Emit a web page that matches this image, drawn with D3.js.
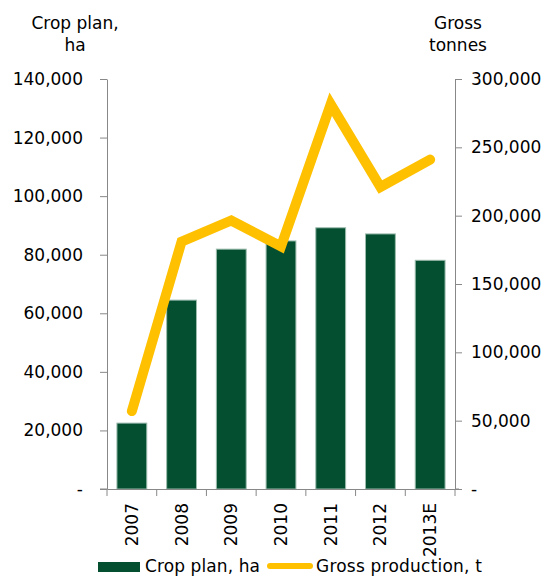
<!DOCTYPE html>
<html><head><meta charset="utf-8">
<script src="https://cdn.jsdelivr.net/npm/d3@7"></script>
<style>body{margin:0;background:#fff}svg text{font-family:"DejaVu Sans",Verdana,sans-serif;fill:#000}</style>
</head><body><svg id="c" width="552" height="576"></svg>
<script>
const categories = ["2007","2008","2009","2010","2011","2012","2013E"];
const cropPlan = [22500, 64500, 81900, 84700, 89200, 87100, 78100];
const grossProduction = [57000, 181000, 196500, 177500, 281500, 221000, 241000];
const leftTicks = [0,20000,40000,60000,80000,100000,120000,140000];
const rightTicks = [0,50000,100000,150000,200000,250000,300000];

const svg = d3.select("#c");
const L = 107, R = 455, T = 79, B = 489;
const x = d3.scaleBand().domain(categories).range([L, R]).paddingInner(0.4).paddingOuter(0.2);
const xb = d3.scaleBand().domain(categories).range([L, R]);
const yL = d3.scaleLinear().domain([0,140000]).range([B, T]);
const yR = d3.scaleLinear().domain([0,300000]).range([B, T]);
const fmt = v => v === 0 ? "-" : d3.format(",")(v);
const FS = "17px";

// bars
svg.append("g").selectAll("rect").data(categories).join("rect")
  .attr("x", (d)=>x(d)).attr("width", x.bandwidth())
  .attr("y", (d,i)=>yL(cropPlan[i])).attr("height", (d,i)=>B - yL(cropPlan[i]))
  .attr("fill", "#034f30").attr("stroke", "#9cbcae").attr("stroke-width", 1);

// axes
const gl = svg.append("g").attr("transform", `translate(${L},0)`)
  .call(d3.axisLeft(yL).tickValues(leftTicks).tickFormat(fmt).tickSize(7).tickSizeOuter(0).tickPadding(17));
const gr = svg.append("g").attr("transform", `translate(${R},0)`)
  .call(d3.axisRight(yR).tickValues(rightTicks).tickFormat(fmt).tickSize(7).tickSizeOuter(0).tickPadding(9));
const gx = svg.append("g").attr("transform", `translate(0,${B})`)
  .call(d3.axisBottom(xb).tickSize(0).tickSizeOuter(0).tickFormat(""));
// boundary ticks on x axis
svg.append("g").selectAll("line").data(categories.concat(["_end"])).join("line")
  .attr("x1",(d,i)=>L + i*xb.bandwidth()).attr("x2",(d,i)=>L + i*xb.bandwidth())
  .attr("y1",B).attr("y2",B+7).attr("stroke","#888");
svg.append("line").attr("x1",L-7).attr("x2",L).attr("y1",B).attr("y2",B).attr("stroke","#888");
svg.append("line").attr("x1",R).attr("x2",R+4).attr("y1",B).attr("y2",B).attr("stroke","#888");

[gl,gr,gx].forEach(g=>{
  g.select(".domain").attr("stroke","#888");
  g.selectAll(".tick line").attr("stroke","#888");
  g.selectAll("text").style("font-size",FS).style("font-family","DejaVu Sans, Verdana, sans-serif").attr("fill","#000");
});

// x labels
svg.append("g").selectAll("text").data(categories).join("text")
  .attr("transform", d=>`translate(${xb(d)+xb.bandwidth()/2+6},${B+14}) rotate(-90)`)
  .attr("text-anchor","end").style("font-size",FS).text(d=>d);

// line
svg.append("path").datum(grossProduction)
  .attr("d", d3.line().x((d,i)=>xb(categories[i])+xb.bandwidth()/2).y(d=>yR(d)))
  .attr("fill","none").attr("stroke","#ffc000").attr("stroke-width",10).attr("stroke-linejoin","miter").attr("stroke-linecap","round");

// axis titles
const t1 = svg.append("text").attr("text-anchor","middle").style("font-size",FS);
t1.append("tspan").attr("x",75).attr("y",29).text("Crop plan,");
t1.append("tspan").attr("x",75).attr("y",51).text("ha");
const t2 = svg.append("text").attr("text-anchor","middle").style("font-size",FS);
t2.append("tspan").attr("x",458).attr("y",29).text("Gross");
t2.append("tspan").attr("x",458).attr("y",51).text("tonnes");

// legend
const lg = svg.append("g");
lg.append("rect").attr("x",98).attr("y",562).attr("width",42).attr("height",10).attr("fill","#034f30");
lg.append("text").attr("x",145).attr("y",572).attr("textLength",115).style("font-size",FS).text("Crop plan, ha");
lg.append("line").attr("x1",270).attr("x2",310).attr("y1",566).attr("y2",566).attr("stroke","#ffc000").attr("stroke-width",6).attr("stroke-linecap","round");
lg.append("text").attr("x",316).attr("y",572).attr("textLength",166).style("font-size",FS).text("Gross production, t");
</script></body></html>
